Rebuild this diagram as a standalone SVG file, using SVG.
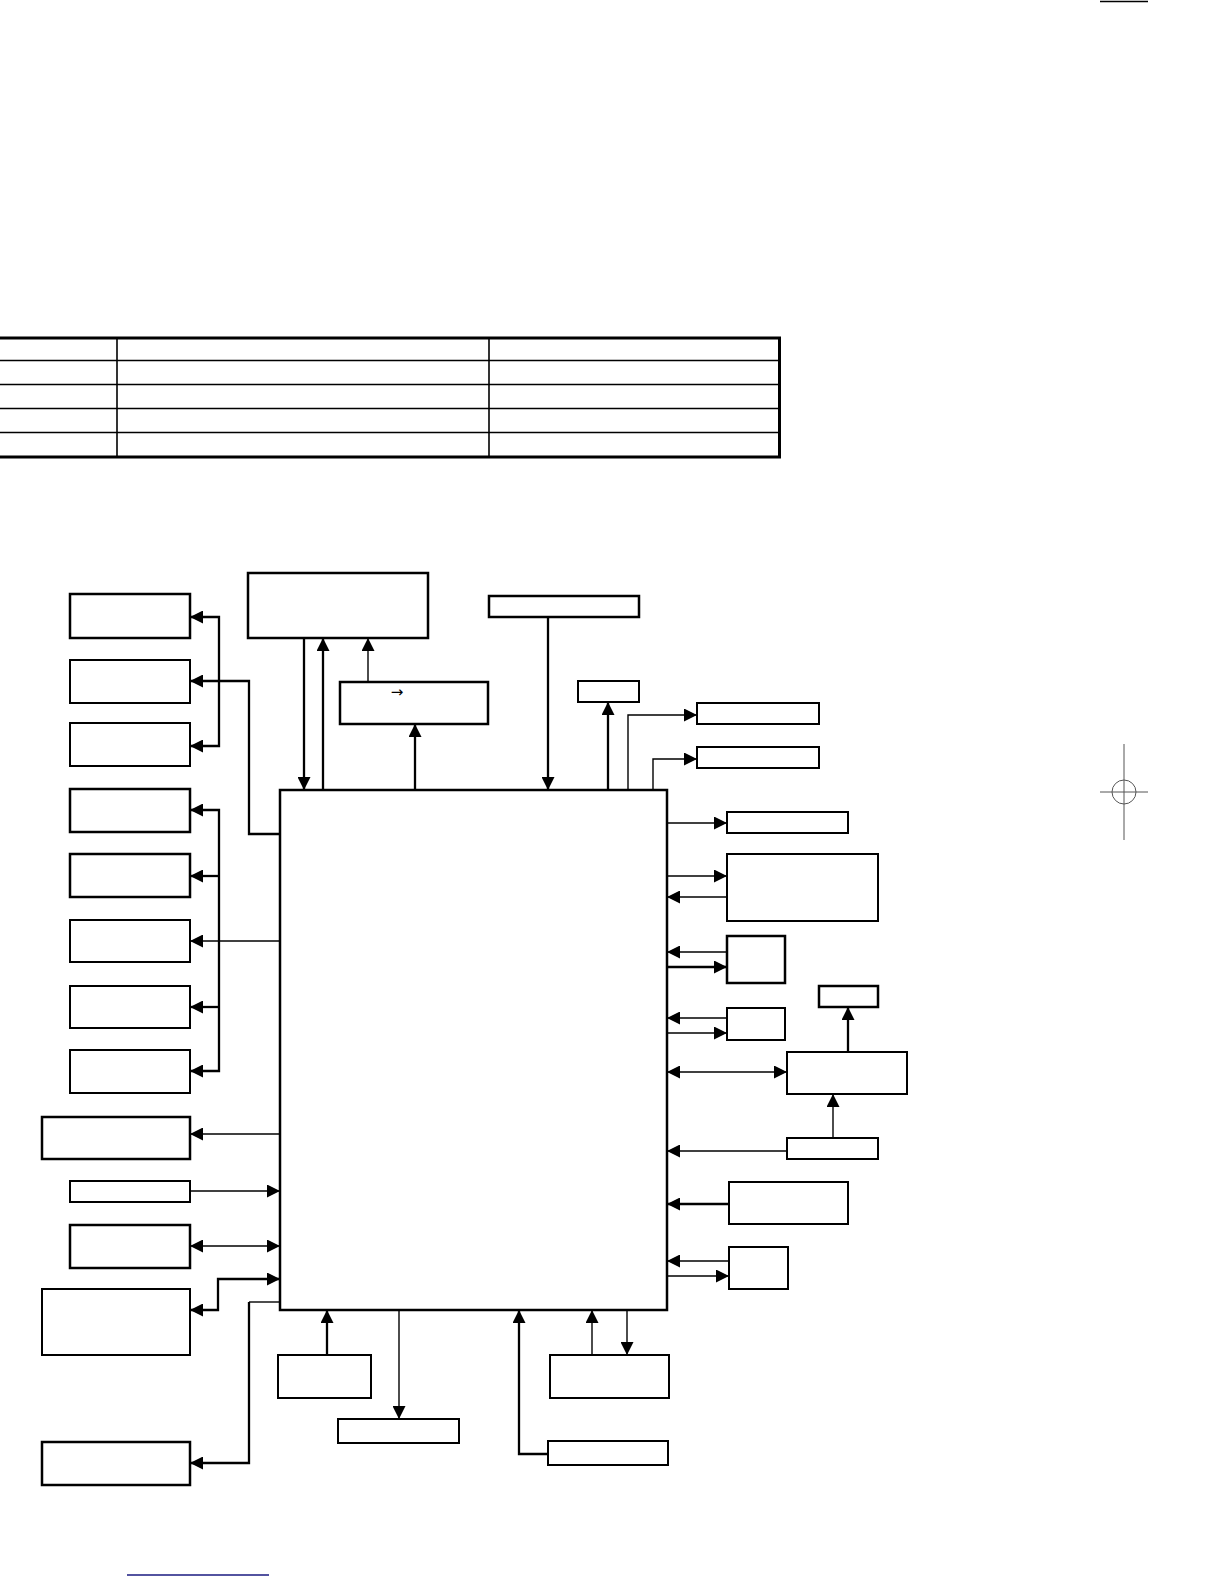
<svg xmlns="http://www.w3.org/2000/svg" width="1224" height="1584" viewBox="0 0 1224 1584">
<style>
.box{fill:#fff;stroke:#000;stroke-width:2}
.bx{fill:#fff;stroke:#000;stroke-width:2.5}
.thin{fill:none;stroke:#000;stroke-width:1.4}
.thick{fill:none;stroke:#000;stroke-width:2.3}
.tl{stroke:#000;stroke-width:1.6}
.tb{stroke:#000;stroke-width:3}
.ah{marker-end:url(#a)}
.ah2{marker-start:url(#a);marker-end:url(#a)}
.reg{stroke:#555;stroke-width:1;fill:none}
</style>
<defs>
<marker id="a" viewBox="0 0 13 13" refX="13" refY="6.5" markerWidth="13" markerHeight="13" markerUnits="userSpaceOnUse" orient="auto-start-reverse">
<path d="M0,0 L13,6.5 L0,13 z" fill="#000"/>
</marker>
</defs>
<rect width="1224" height="1584" fill="#fff"/>
<line x1="1100" y1="1.5" x2="1148" y2="1.5" stroke="#000" stroke-width="1.5"/>
<g id="regmark">
<line class="reg" x1="1124" y1="744" x2="1124" y2="840"/>
<line class="reg" x1="1100" y1="792" x2="1148" y2="792"/>
<circle class="reg" cx="1124" cy="792" r="12"/>
</g>
<line x1="127" y1="1575" x2="269" y2="1575" stroke="#1a1a80" stroke-width="1.3"/>
<g id="table">
<line class="tl" x1="0" y1="360.5" x2="779" y2="360.5"/>
<line class="tl" x1="0" y1="384.5" x2="779" y2="384.5"/>
<line class="tl" x1="0" y1="408.5" x2="779" y2="408.5"/>
<line class="tl" x1="0" y1="432.5" x2="779" y2="432.5"/>
<line class="tl" x1="117" y1="338" x2="117" y2="457"/>
<line class="tl" x1="489" y1="338" x2="489" y2="457"/>
<line class="tb" x1="0" y1="338" x2="781" y2="338"/>
<line class="tb" x1="0" y1="457" x2="781" y2="457"/>
<line class="tb" x1="779.5" y1="337" x2="779.5" y2="458"/>
</g>
<g id="connectors">
<line class="thick ah" x1="304" y1="638" x2="304" y2="790"/>
<line class="thick ah" x1="323" y1="790" x2="323" y2="638"/>
<line class="thin ah" x1="368" y1="682" x2="368" y2="638"/>
<line class="thick ah" x1="415" y1="790" x2="415" y2="724"/>
<line class="thick ah" x1="548" y1="617" x2="548" y2="790"/>
<line class="thick ah" x1="608" y1="790" x2="608" y2="702"/>
<path class="thin ah" d="M628,790 V715 H697"/>
<path class="thin ah" d="M653,790 V759 H697"/>
<line class="thin ah" x1="667" y1="823" x2="727" y2="823"/>
<line class="thin ah" x1="667" y1="876" x2="727" y2="876"/>
<line class="thin ah" x1="727" y1="897" x2="667" y2="897"/>
<line class="thin ah" x1="727" y1="952" x2="667" y2="952"/>
<line class="thick ah" x1="667" y1="967" x2="727" y2="967"/>
<line class="thin ah" x1="727" y1="1018" x2="667" y2="1018"/>
<line class="thin ah" x1="667" y1="1033" x2="727" y2="1033"/>
<line class="thin ah2" x1="667" y1="1072" x2="787" y2="1072"/>
<line class="thick ah" x1="848" y1="1052" x2="848" y2="1007"/>
<line class="thin ah" x1="833" y1="1138" x2="833" y2="1094"/>
<line class="thin ah" x1="787" y1="1151" x2="667" y2="1151"/>
<line class="thick ah" x1="729" y1="1204" x2="667" y2="1204"/>
<line class="thin ah" x1="729" y1="1261" x2="667" y2="1261"/>
<line class="thin ah" x1="667" y1="1276" x2="729" y2="1276"/>
<line class="thick ah" x1="327" y1="1355" x2="327" y2="1310"/>
<line class="thin ah" x1="399" y1="1310" x2="399" y2="1419"/>
<path class="thick ah" d="M548,1454 H519 V1310"/>
<line class="thin ah" x1="592" y1="1355" x2="592" y2="1310"/>
<line class="thin ah" x1="627" y1="1310" x2="627" y2="1355"/>
<path class="thick ah2" d="M190,617 H219 V746 H190"/>
<path class="thick ah" d="M280,834 H249 V681 H190"/>
<path class="thick ah2" d="M190,810 H219 V1071 H190"/>
<line class="thick ah" x1="219" y1="876" x2="190" y2="876"/>
<line class="thick ah" x1="219" y1="1007" x2="190" y2="1007"/>
<line class="thin ah" x1="280" y1="941" x2="190" y2="941"/>
<line class="thin ah" x1="280" y1="1134" x2="190" y2="1134"/>
<line class="thin ah" x1="190" y1="1191" x2="280" y2="1191"/>
<line class="thin ah2" x1="190" y1="1246" x2="280" y2="1246"/>
<path class="thick ah2" d="M280,1279 H218 V1310 H190"/>
<path class="thin" d="M280,1302 H249"/>
<path class="thick ah" d="M249,1302 V1463 H190"/>
</g>
<g id="main"><rect class="bx" x="280" y="790" width="387" height="520"/></g>
<g id="top-big"><rect class="bx" x="248" y="573" width="180" height="65"/></g>
<g id="conv"><rect class="bx" x="340" y="682" width="148" height="42"/>
<text x="397" y="697" font-family="DejaVu Sans, sans-serif" font-size="15" text-anchor="middle">→</text></g>
<g id="t1"><rect class="bx" x="489" y="596" width="150" height="21"/></g>
<g id="t2"><rect class="box" x="578" y="681" width="61" height="21"/></g>
<g id="r1"><rect class="box" x="697" y="703" width="122" height="21"/></g>
<g id="r2"><rect class="box" x="697" y="747" width="122" height="21"/></g>
<g id="r3"><rect class="box" x="727" y="812" width="121" height="21"/></g>
<g id="r4"><rect class="box" x="727" y="854" width="151" height="67"/></g>
<g id="r5"><rect class="bx" x="727" y="936" width="58" height="47"/></g>
<g id="r6"><rect class="box" x="727" y="1008" width="58" height="32"/></g>
<g id="r7"><rect class="bx" x="819" y="986" width="59" height="21"/></g>
<g id="r8"><rect class="box" x="787" y="1052" width="120" height="42"/></g>
<g id="r9"><rect class="box" x="787" y="1138" width="91" height="21"/></g>
<g id="r10"><rect class="box" x="729" y="1182" width="119" height="42"/></g>
<g id="r11"><rect class="box" x="729" y="1247" width="59" height="42"/></g>
<g id="b1"><rect class="box" x="278" y="1355" width="93" height="43"/></g>
<g id="b2"><rect class="box" x="338" y="1419" width="121" height="24"/></g>
<g id="b3"><rect class="box" x="548" y="1441" width="120" height="24"/></g>
<g id="b4"><rect class="box" x="550" y="1355" width="119" height="43"/></g>
<g id="l1"><rect class="bx" x="70" y="594" width="120" height="44"/></g>
<g id="l2"><rect class="box" x="70" y="660" width="120" height="43"/></g>
<g id="l3"><rect class="box" x="70" y="723" width="120" height="43"/></g>
<g id="l4"><rect class="bx" x="70" y="789" width="120" height="43"/></g>
<g id="l5"><rect class="bx" x="70" y="854" width="120" height="43"/></g>
<g id="l6"><rect class="box" x="70" y="920" width="120" height="42"/></g>
<g id="l7"><rect class="box" x="70" y="986" width="120" height="42"/></g>
<g id="l8"><rect class="box" x="70" y="1050" width="120" height="43"/></g>
<g id="l9"><rect class="bx" x="42" y="1117" width="148" height="42"/></g>
<g id="l10"><rect class="box" x="70" y="1181" width="120" height="21"/></g>
<g id="l11"><rect class="bx" x="70" y="1225" width="120" height="43"/></g>
<g id="l12"><rect class="box" x="42" y="1289" width="148" height="66"/></g>
<g id="l13"><rect class="bx" x="42" y="1442" width="148" height="43"/></g>
</svg>
